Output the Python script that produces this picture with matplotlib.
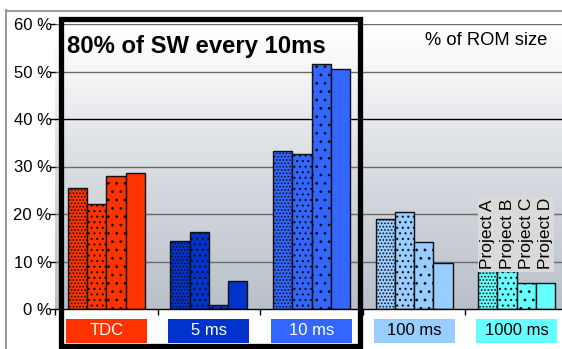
import numpy as np
import matplotlib
matplotlib.use("Agg")
import matplotlib.pyplot as plt
from matplotlib.patches import Rectangle
from matplotlib.lines import Line2D
from matplotlib.transforms import blended_transform_factory
from matplotlib.colors import LinearSegmentedColormap

plt.rcParams['font.family'] = ['Liberation Sans', 'DejaVu Sans']
plt.rcParams['hatch.linewidth'] = 0.8

# --- data -------------------------------------------------------------
categories = ["TDC", "5 ms", "10 ms", "100 ms", "1000 ms"]
projects = ["Project A", "Project B", "Project C", "Project D"]
# % of ROM size, one row per category, one column per project
proj_a = [25.4, 14.3, 33.3, 18.9, 7.9]
proj_b = [22.2, 16.2, 32.6, 20.4, 7.9]
proj_c = [28.1, 0.8, 51.5, 14.2, 5.4]
proj_d = [28.6, 5.8, 50.5, 9.6, 5.4]
yticks = [0, 10, 20, 30, 40, 50, 60]
ytick_labels = ["0 %", "10 %", "20 %", "30 %", "40 %", "50 %", "60 %"]

# --- styles -----------------------------------------------------------
cat_colors = ["#FF3300", "#0033CC", "#3366FF", "#99CCFF", "#66FFFF"]
label_text_colors = ["white", "white", "white", "black", "black"]
hatches = [".....", "...", "..", None]

W, H = 562, 349
fig = plt.figure(figsize=(W / 100, H / 100), dpi=100)
fig.patch.set_facecolor("white")

# axes: x from 55 px to beyond right edge, y from 24 px (60 %) to 309 px (0 %)
ax = fig.add_axes([55 / W, 40 / H, 513 / W, 285 / H])

# soft vertical gradient behind the plot
grad_cmap = LinearSegmentedColormap.from_list(
    "bg", [(0.0, "#b9c0c9"), (0.55, "#dde0e4"), (0.85, "#f7f7f8"), (1.0, "#ffffff")])
grad = np.linspace(0, 1, 256).reshape(-1, 1)
ax.imshow(grad, extent=(-0.5, 4.5, 0, 60), origin="lower", aspect="auto",
          cmap=grad_cmap, zorder=0)
ax.set_xlim(-0.5, 4.5)
ax.set_ylim(0, 60)

for yv in yticks[1:]:
    ax.axhline(yv, color="black" if yv == 40 else "#6a6a6a", lw=1.0, zorder=1)

series = [proj_a, proj_b, proj_c, proj_d]
bw = 0.1875
x = np.arange(len(categories))
for j, vals in enumerate(series):
    offs = (j - 1.5) * bw
    for i, v in enumerate(vals):
        ax.bar(x[i] + offs, v, width=bw, color=cat_colors[i], edgecolor="#101010",
               linewidth=1.0, hatch=hatches[j], zorder=3)

# spines and ticks
for s in ["top", "right", "left"]:
    ax.spines[s].set_visible(False)
ax.spines["bottom"].set_color("black")
ax.spines["bottom"].set_linewidth(1.0)
ax.spines["bottom"].set_zorder(4)
ax.set_yticks(yticks)
ax.set_yticklabels(ytick_labels, fontsize=12)
ax.tick_params(axis="y", length=4, width=1, pad=-1.5, direction="out")
ax.set_xticks(np.arange(len(categories) + 1) - 0.5)
ax.set_xticklabels([])
ax.tick_params(axis="x", length=4, width=1, direction="out")

# coloured category boxes below the axis
btrans = blended_transform_factory(ax.transData, fig.transFigure)
for i, name in enumerate(categories):
    ax.add_patch(Rectangle((x[i] - 0.395, 6 / H), 0.79, 24 / H, transform=btrans,
                           facecolor=cat_colors[i], edgecolor="none",
                           clip_on=False, zorder=5))
    ax.text(x[i], 18.5 / H, name, transform=btrans, ha="center", va="center",
            fontsize=12, color=label_text_colors[i], zorder=6, clip_on=False)

# project legend written vertically above the last group
ax.add_patch(Rectangle((3.62, 7.8), 0.74, 15.8, facecolor="#dadada",
                       edgecolor="none", zorder=5))
for j, pname in enumerate(projects):
    ax.text(x[-1] + (j - 1.5) * bw, 8.4, pname, rotation=90, ha="center",
            va="bottom", fontsize=12.5, color="black", zorder=6)

# texts
fig.text(67 / W, 1 - 53 / H, "80% of SW every 10ms", fontsize=17.2,
         fontweight="bold", ha="left", va="baseline", zorder=10)
fig.text(425 / W, 1 - 45 / H, "% of ROM size", fontsize=13.2,
         ha="left", va="baseline", zorder=10)

# thin grey outer frame
fig.add_artist(Line2D([6.5 / W, 6.5 / W], [0, 1 - 10 / H], color="#8a8a8a",
                      lw=1.2, transform=fig.transFigure))
fig.add_artist(Line2D([6 / W, 1], [1 - 10.5 / H, 1 - 10.5 / H], color="#8a8a8a",
                      lw=1.2, transform=fig.transFigure))

# heavy black box around the first three categories
fig.add_artist(Rectangle((60.5 / W, 3 / H), 300 / W, (346 - 18.5) / H,
                         transform=fig.transFigure, facecolor="none",
                         edgecolor="black", lw=3.8, zorder=20))

fig.savefig("out.png", dpi=100)
